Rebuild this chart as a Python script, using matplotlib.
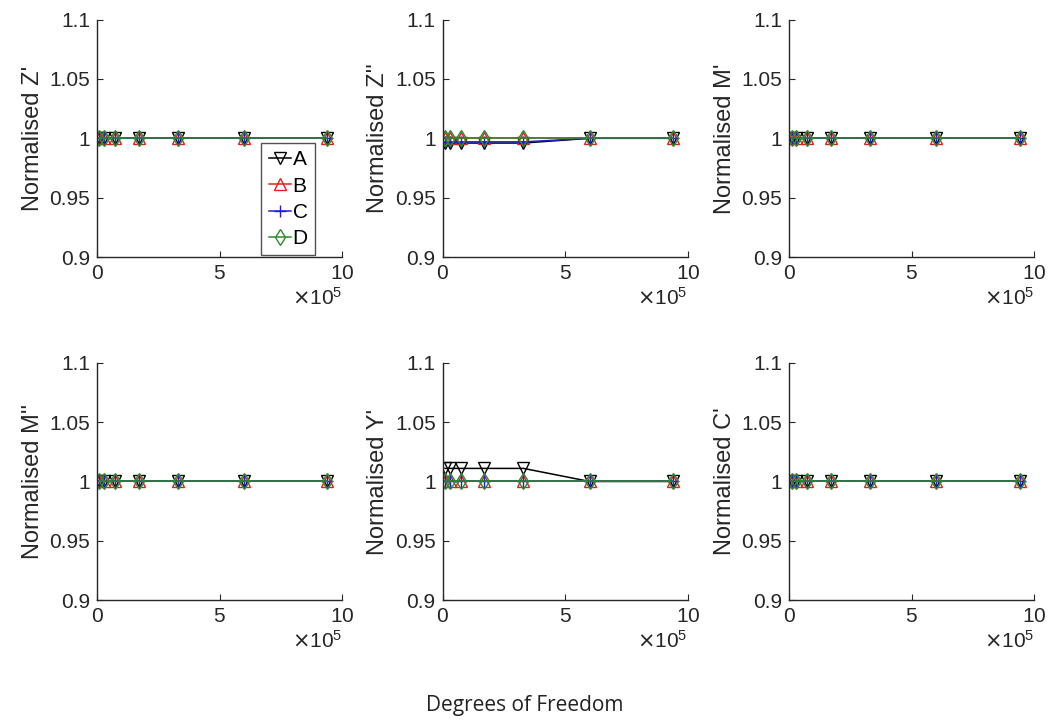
import numpy as np
import matplotlib
matplotlib.use('Agg')
import matplotlib.pyplot as plt

plt.rcParams['font.family'] = ['Liberation Sans', 'DejaVu Sans']

# degrees of freedom (same for every panel)
dof = [0.1e5, 0.3e5, 0.75e5, 1.7e5, 3.3e5, 6.0e5, 9.4e5]

panel_names = ["Z'", "Z''", "M'", "M''", "Y'", "C'"]
series_names = ['A', 'B', 'C', 'D']

ones = [1, 1, 1, 1, 1, 1, 1]
zpp_a = [0.996, 0.996, 0.996, 0.996, 0.996, 1, 1]
zpp_c = [0.997, 0.997, 0.997, 0.997, 0.997, 1, 1]
yp_a = [1.011, 1.011, 1.011, 1.011, 1.011, 1, 1]

values = {
    "Z'":  {'A': ones, 'B': ones, 'C': ones, 'D': ones},
    "Z''": {'A': zpp_a, 'B': ones, 'C': zpp_c, 'D': ones},
    "M'":  {'A': ones, 'B': ones, 'C': ones, 'D': ones},
    "M''": {'A': ones, 'B': ones, 'C': ones, 'D': ones},
    "Y'":  {'A': yp_a, 'B': ones, 'C': ones, 'D': ones},
    "C'":  {'A': ones, 'B': ones, 'C': ones, 'D': ones},
}

styles = {
    'A': dict(color='black', marker='v'),
    'B': dict(color='#e02020', marker='^'),
    'C': dict(color='#2020d0', marker='+'),
    'D': dict(color='#2e8b2e', marker='d'),
}

fig = plt.figure(figsize=(10.5, 7.24), dpi=100)
lefts = [0.0924, 0.4215, 0.7515]
bottoms = [0.645, 0.171]
w, h = 0.2335, 0.328

axc = '#262626'
for i, name in enumerate(panel_names):
    ax = fig.add_axes([lefts[i % 3], bottoms[i // 3], w, h])
    for s in series_names:
        st = styles[s]
        ax.plot(dof, values[name][s], color=st['color'], marker=st['marker'],
                markerfacecolor='none', markersize=8.5, linewidth=1.1,
                markeredgewidth=1.0, label=s)
    ax.set_xlim(0, 10e5)
    ax.set_ylim(0.9, 1.1)
    ax.set_xticks([0, 5e5, 10e5])
    ax.set_yticks([0.9, 0.95, 1.0, 1.05, 1.1])
    ax.set_yticklabels(['0.9', '0.95', '1', '1.05', '1.1'])
    ax.ticklabel_format(axis='x', style='sci', scilimits=(5, 5), useMathText=True)
    ax.spines['top'].set_visible(False)
    ax.spines['right'].set_visible(False)
    for sp in ['left', 'bottom']:
        ax.spines[sp].set_color(axc)
        ax.spines[sp].set_linewidth(1.0)
    ax.tick_params(direction='in', length=4, width=0.8, colors=axc,
                   labelsize=15, labelcolor=axc, pad=5)
    ax.xaxis.get_offset_text().set_fontsize(15)
    ax.xaxis.get_offset_text().set_color(axc)
    ax.set_ylabel('Normalised ' + name, fontsize=17, color=axc, labelpad=4)
    if i == 0:
        leg = ax.legend(loc='upper left', bbox_to_anchor=(0.67, 0.48),
                        fontsize=15, frameon=True, fancybox=False,
                        handlelength=1.1, handletextpad=0.05, borderpad=0.35,
                        labelspacing=0.35, borderaxespad=0)
        leg.get_frame().set_edgecolor(axc)
        leg.get_frame().set_linewidth(1.0)

fig.text(0.5, 0.025, 'Degrees of Freedom', ha='center', va='center',
         fontsize=15, family=['Open Sans', 'DejaVu Sans'], color='#222222')

fig.savefig('out.png', dpi=100)
